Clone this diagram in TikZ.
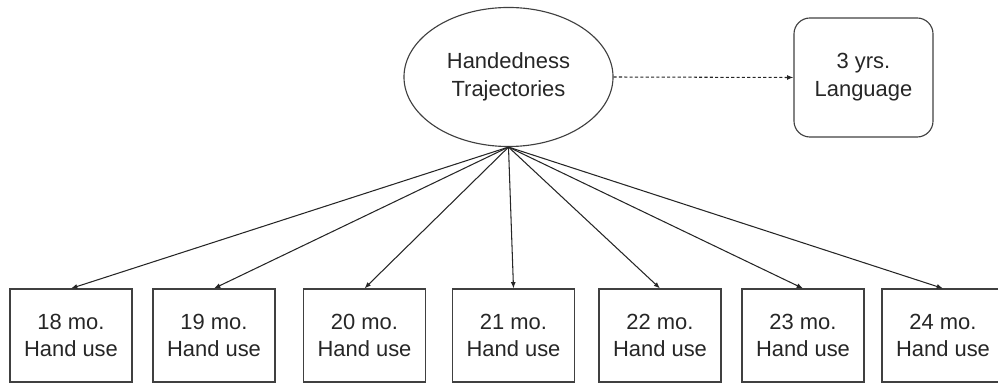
\documentclass[tikz,border=0pt]{standalone}
\usepackage{fontspec}
\setmainfont{Liberation Sans}
\usetikzlibrary{shapes.geometric,arrows.meta}
\tikzset{
	handbox/.style={draw=black!75, line width=0.8pt, minimum width=3.05cm, minimum height=2.325cm, align=center, font=\fontsize{15.6}{19.8}\selectfont, text=black!85},
	trajarrow/.style={draw=black!85, line width=0.75pt, -{Latex[length=4.5pt,width=3.5pt]}}
}
\begin{document}
	\begin{tikzpicture}[x=0.025cm, y=-0.025cm]
		\clip (0,0) rectangle (998,385);
		\node[draw=black!75, line width=0.8pt, ellipse, minimum width=5.225cm, minimum height=3.475cm, inner sep=0pt, align=center, font=\fontsize{15.6}{19.8}\selectfont, text=black!85] (traj) at (508.5,77) {Handedness\\Trajectories};
		\node[draw=black!75, line width=0.8pt, rounded corners=0.4cm, minimum width=3.475cm, minimum height=2.975cm, align=center, font=\fontsize{15.6}{19.8}\selectfont, text=black!85] (lang) at (863.5,77.5) {3 yrs.\\Language};
		\draw[draw=black!85, line width=0.75pt, dash pattern=on 2.2pt off 1.6pt, -{Latex[length=4.5pt,width=3.5pt]}] (traj.east) -- (lang.west);
		\foreach \m/\x in {18/71, 19/214, 20/364.5, 21/513.5, 22/660, 23/803, 24/943}{
			\node[handbox] (b\m) at (\x,335.5) {\m{} mo.\\Hand use};
			\draw[trajarrow] (traj.south) -- (b\m.north);
		}
	\end{tikzpicture}
\end{document}
